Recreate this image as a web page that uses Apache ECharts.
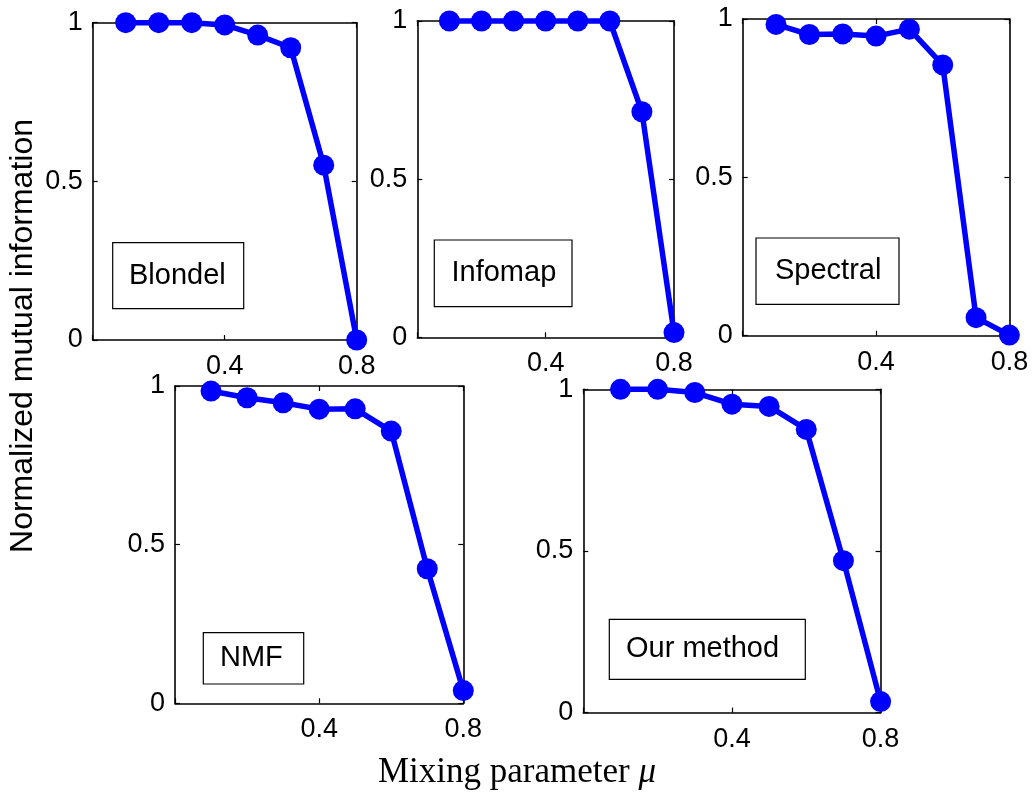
<!DOCTYPE html>
<html>
<head>
<meta charset="utf-8">
<script src="https://cdn.jsdelivr.net/npm/echarts@6/dist/echarts.min.js"></script>
<style>
html,body{margin:0;padding:0;background:#fff;}
#c{width:1035px;height:794px;}
</style>
</head>
<body>
<div id="c"></div>
<script>
// ---- data ----
var mu = [0.1, 0.2, 0.3, 0.4, 0.5, 0.6, 0.7, 0.8];
var methods = ['Blondel', 'Infomap', 'Spectral', 'NMF', 'Our method'];
var blondel  = [1.0, 1.0, 1.0, 0.993, 0.961, 0.921, 0.551, 0.0];
var infomap  = [1.0, 1.0, 1.0, 1.0, 1.0, 1.0, 0.713, 0.015];
var spectral = [0.983, 0.951, 0.953, 0.946, 0.968, 0.855, 0.057, 0.002];
var nmf      = [0.984, 0.963, 0.947, 0.927, 0.928, 0.858, 0.424, 0.040];
var ours     = [1.0, 1.0, 0.99, 0.954, 0.947, 0.876, 0.47, 0.034];
var seriesValues = [blondel, infomap, spectral, nmf, ours];
var yTicks = [0, 0.5, 1];
var xTicks = [0.4, 0.8];
var yTitle = 'Normalized mutual information';
var xTitle = 'Mixing parameter ';
var xSymbol = 'μ';

// ---- layout ----
var grids = [
  {left: 92.7, top: 22.7, width: 264, height: 317.3},
  {left: 417.3, top: 21, width: 256.7, height: 316.3},
  {left: 742.7, top: 19, width: 266.7, height: 316.7},
  {left: 175, top: 386, width: 288.3, height: 317.3},
  {left: 583.3, top: 389.3, width: 297.3, height: 323.3}
];
var boxes = [
  {x: 112.7, y: 242.7, w: 131, h: 66, tx: 129},
  {x: 434.3, y: 240, w: 137.7, h: 66.7, tx: 451.5},
  {x: 756, y: 238, w: 143, h: 66.3, tx: 775},
  {x: 203.3, y: 632.7, w: 100.4, h: 51.3, tx: 220},
  {x: 609.3, y: 619.3, w: 196, h: 60, tx: 626}
];

var FONT = 'Liberation Sans, Arial, Helvetica, sans-serif';
var SERIF = 'Liberation Serif, DejaVu Serif, serif';
var axisLineStyle = {color: '#000', width: 1.6};
var tickStyle = {color: '#000', width: 1.2};

var option = {
  animation: false,
  backgroundColor: '#fff',
  grid: [], xAxis: [], yAxis: [], series: [], graphic: []
};

grids.forEach(function (g, i) {
  option.grid.push({left: g.left, top: g.top, width: g.width, height: g.height, containLabel: false});
  option.xAxis.push({
    type: 'value', gridIndex: i, min: 0, max: 0.8, interval: 0.4, position: 'bottom',
    axisLine: {show: true, lineStyle: axisLineStyle, onZero: false},
    axisTick: {show: true, inside: true, length: 5, lineStyle: tickStyle},
    axisLabel: {show: true, margin: 13, color: '#000', fontFamily: FONT, fontSize: 27,
      formatter: function (v) { var r = Math.round(v * 10) / 10; return xTicks.indexOf(r) >= 0 ? String(r) : ''; }},
    splitLine: {show: false}
  });
  option.xAxis.push({
    type: 'value', gridIndex: i, min: 0, max: 0.8, interval: 0.4, position: 'top',
    axisLine: {show: true, lineStyle: axisLineStyle, onZero: false},
    axisTick: {show: true, inside: true, length: 5, lineStyle: tickStyle},
    axisLabel: {show: false}, splitLine: {show: false}
  });
  option.yAxis.push({
    type: 'value', gridIndex: i, min: 0, max: 1, interval: 0.5, position: 'left',
    axisLine: {show: true, lineStyle: axisLineStyle, onZero: false},
    axisTick: {show: true, inside: true, length: 5, lineStyle: tickStyle},
    axisLabel: {show: true, margin: 10, color: '#000', fontFamily: FONT, fontSize: 27,
      formatter: function (v) { return yTicks.indexOf(v) >= 0 ? String(v) : ''; }},
    splitLine: {show: false}
  });
  option.yAxis.push({
    type: 'value', gridIndex: i, min: 0, max: 1, interval: 0.5, position: 'right',
    axisLine: {show: true, lineStyle: axisLineStyle, onZero: false},
    axisTick: {show: true, inside: true, length: 5, lineStyle: tickStyle},
    axisLabel: {show: false}, splitLine: {show: false}
  });
  option.series.push({
    name: methods[i], type: 'line', xAxisIndex: i * 2, yAxisIndex: i * 2,
    data: mu.map(function (x, k) { return [x, seriesValues[i][k]]; }),
    symbol: 'circle', symbolSize: 21, clip: false,
    lineStyle: {color: '#0000ff', width: 5.5},
    itemStyle: {color: '#0000ff'},
    z: 5
  });
  var b = boxes[i];
  option.graphic.push({
    type: 'rect', shape: {x: b.x, y: b.y, width: b.w, height: b.h},
    style: {fill: '#fff', stroke: '#000', lineWidth: 1.2}, z: 10
  });
  option.graphic.push({
    type: 'text', x: b.tx, y: b.y + b.h / 2,
    style: {text: methods[i], fill: '#000', font: '29px ' + FONT, textVerticalAlign: 'middle', textAlign: 'left'},
    z: 11
  });
});

option.graphic.push({
  type: 'text', x: 23, y: 336, rotation: Math.PI / 2,
  style: {text: yTitle, fill: '#000', font: '32px ' + FONT, textAlign: 'center', textVerticalAlign: 'middle'},
  z: 11
});
option.graphic.push({
  type: 'text', x: 517, y: 773,
  style: {
    text: '{a|' + xTitle + '}{b|' + xSymbol + '}',
    textAlign: 'center', textVerticalAlign: 'middle',
    rich: {
      a: {fontFamily: SERIF, fontSize: 35, fill: '#000'},
      b: {fontFamily: SERIF, fontSize: 35, fontStyle: 'italic', fill: '#000'}
    }
  },
  z: 11
});

var chart = echarts.init(document.getElementById('c'), null, {renderer: 'canvas'});
chart.setOption(option);
</script>
</body>
</html>
